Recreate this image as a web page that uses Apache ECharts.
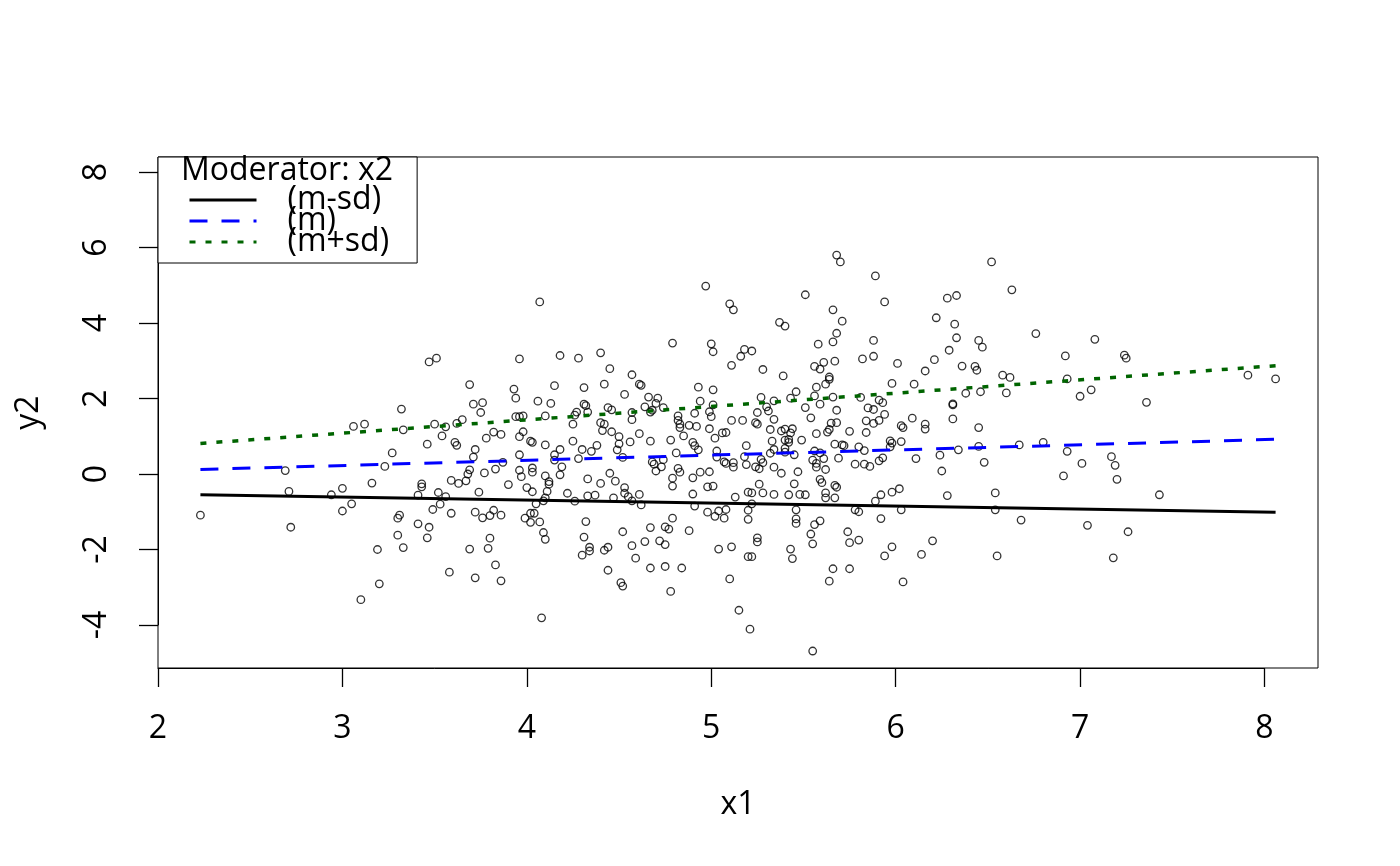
<!DOCTYPE html>
<html><head><meta charset="utf-8">
<script src="https://cdn.jsdelivr.net/npm/echarts/dist/echarts.min.js"></script>
<style>html,body{margin:0;padding:0;background:#fff}#c{width:1400px;height:866px}</style>
</head><body><div id="c"></div>
<script>
// ---- data ----
const observations = [
[3.47,2.97],[3.51,3.07],[3.32,1.72],[3.06,1.26],[3.12,1.32],[3.33,1.17],[3.50,1.32],[3.56,1.25],[3.54,1.01],[3.46,0.79],[3.27,0.56],
[2.69,0.09],[3.23,0.20],[2.23,-1.09],[2.71,-0.46],[2.72,-1.41],[2.94,-0.55],[3.00,-0.38],[3.00,-0.98],[3.05,-0.79],[3.16,-0.24],[3.19,-2.00],[3.20,-2.91],[3.10,-3.33],[3.31,-1.09],[3.30,-1.17],[3.30,-1.62],[3.33,-1.95],[3.41,-0.56],[3.43,-0.26],[3.43,-0.34],[3.41,-1.32],[3.47,-1.41],[3.46,-1.69],[3.49,-0.94],[3.52,-0.49],[3.53,-0.80],
[4.07,4.56],[4.97,4.98],[3.96,3.05],[4.18,3.14],[4.28,3.07],[4.40,3.21],[4.45,2.79],[4.79,3.47],[5.00,3.45],[5.01,3.24],[3.69,2.37],[3.93,2.25],[3.94,2.01],[4.15,2.34],[4.31,2.29],[4.42,2.38],[4.57,2.63],[4.61,2.38],[4.62,2.35],[4.53,2.11],[4.66,2.04],[4.71,2.01],[4.93,2.30],[5.01,2.23],[4.94,1.93],[3.71,1.85],[3.76,1.89],[3.75,1.63],[4.06,1.93],[4.13,1.87],[4.31,1.85],[4.32,1.81],[4.27,1.64],[4.26,1.56],[4.33,1.64],[4.44,1.76],[4.46,1.70],[4.64,1.78],[4.70,1.87],[4.74,1.76],[4.68,1.69],[4.67,1.64],[4.57,1.63],[4.57,1.44],[5.01,1.83],[4.99,1.65],[5.00,1.52],[4.91,1.61],[4.82,1.54],[3.94,1.52],[3.96,1.52],[3.98,1.54],[4.10,1.54],[3.62,1.34],[3.65,1.44],[3.61,0.84],[3.62,0.76],[3.72,0.65],[3.71,0.45],[3.78,0.95],[3.82,1.11],[3.86,1.05],[3.96,0.99],[3.98,1.12],[4.02,0.87],[4.03,0.84],[3.96,0.51],[4.10,0.77],[4.15,0.51],[4.18,0.65],[4.25,1.32],[4.25,0.87],[4.30,0.65],[4.35,0.60],[4.38,0.76],[4.40,1.36],[4.42,1.32],[4.41,1.15],[4.46,1.12],[4.50,0.99],[4.50,0.80],[4.49,0.64],[4.56,0.85],[4.61,1.07],[4.67,0.87],[4.78,0.90],[4.82,1.42],[4.83,1.32],[4.83,1.23],[4.85,1.01],[4.88,1.29],[4.92,1.26],[4.90,0.84],[4.91,0.75],[4.93,0.64],[4.99,1.20],[5.02,0.95],[5.06,1.09],[5.08,1.10],[4.81,0.56],[5.03,0.61],
[3.87,0.31],[4.15,0.37],[4.28,0.41],[4.52,0.44],[4.68,0.32],[4.69,0.26],[4.70,0.08],[4.73,0.19],[4.74,0.38],[4.82,0.15],[4.83,0.05],[5.03,0.45],[5.07,0.32],[5.08,0.28],[3.59,-0.17],[3.63,-0.25],[3.67,-0.18],[3.68,0.00],[3.69,0.11],[3.77,0.03],[3.83,0.13],[3.90,-0.28],[3.96,0.10],[3.97,-0.07],[4.03,0.16],[4.03,0.05],[4.10,-0.05],[4.12,-0.20],[4.12,-0.27],[4.11,-0.46],[4.19,0.19],[4.18,-0.02],[4.00,-0.36],[4.03,-0.47],[3.74,-0.48],[3.56,-0.60],[3.59,-1.04],[3.72,-1.01],[3.76,-1.16],[3.80,-1.10],[3.82,-0.96],[3.86,-1.09],[3.99,-1.17],[4.02,-1.04],[4.04,-1.04],[4.02,-1.28],[4.07,-1.27],[4.05,-0.79],[4.09,-0.71],[4.10,-0.63],[4.09,-1.55],[4.10,-1.73],[3.80,-1.70],[3.79,-1.97],[3.69,-1.99],[3.58,-2.60],[3.72,-2.75],[3.83,-2.41],[3.86,-2.83],[4.08,-3.81],[4.22,-0.51],[4.26,-0.72],[4.33,-0.13],[4.33,-0.58],[4.37,-0.56],[4.40,-0.25],[4.45,0.02],[4.48,-0.19],[4.47,-0.63],[4.53,-0.36],[4.53,-0.51],[4.55,-0.60],[4.57,-0.71],[4.61,-0.54],[4.62,-0.82],[4.32,-1.26],[4.31,-1.67],[4.34,-1.94],[4.34,-2.04],[4.30,-2.15],[4.42,-2.02],[4.44,-1.94],[4.52,-1.53],[4.57,-1.90],[4.59,-2.23],[4.44,-2.55],[4.51,-2.88],[4.52,-2.97],[4.64,-1.79],[4.67,-1.42],[4.67,-2.49],[4.72,-1.77],[4.75,-1.87],[4.75,-1.40],[4.77,-1.46],[4.79,-1.17],[4.75,-2.45],[4.84,-2.49],[4.78,-3.11],[4.88,-1.50],[4.79,-0.32],[4.79,-0.11],[4.90,-0.10],[4.94,0.05],[4.99,0.06],[4.90,-0.53],[4.91,-0.85],[4.98,-0.34],[5.01,-0.32],[4.98,-1.01],[5.02,-1.12],[5.04,-0.98],[5.07,-1.17],[5.08,-0.94],[5.04,-1.99],
[5.68,5.80],[5.70,5.62],[5.89,5.25],[6.52,5.62],[5.51,4.75],[5.10,4.51],[5.12,4.35],[5.94,4.56],[6.28,4.66],[6.33,4.73],[5.66,4.35],[5.71,4.05],[5.37,4.02],[5.40,3.92],[5.68,3.73],[5.66,3.50],[5.58,3.44],[6.22,4.14],[6.32,3.97],[6.33,3.61],[6.45,3.54],[6.47,3.36],[6.29,3.28],[5.88,3.54],[5.88,3.12],[5.82,3.05],[6.01,2.93],[6.21,3.03],[6.16,2.73],[6.36,2.86],[6.43,2.85],[6.44,2.75],[5.18,3.30],[5.22,3.26],[5.16,3.12],[5.11,2.88],[5.28,2.77],[5.39,2.60],[5.67,2.99],[5.61,2.96],[5.56,2.85],[5.59,2.78],[5.64,2.57],[5.64,2.51],[5.62,2.38],[5.57,2.30],[5.98,2.40],[6.10,2.38],[5.46,2.18],[5.43,2.01],[5.27,2.03],[5.34,1.94],[5.30,1.78],[5.31,1.67],[5.25,1.63],[5.56,2.07],[5.66,2.04],[5.59,1.85],[5.51,1.76],[5.68,1.69],[5.54,1.49],[5.81,2.03],[5.91,1.96],[5.93,1.89],[5.85,1.75],[5.88,1.71],[5.94,1.58],[5.91,1.42],[5.84,1.41],[5.88,1.34],[6.09,1.48],[6.03,1.28],[6.04,1.23],[6.16,1.32],[6.16,1.19],[6.31,1.86],[6.31,1.83],[6.31,1.46],[6.38,2.14],[6.46,2.18],[6.45,1.23],[5.11,1.42],[5.17,1.42],[5.24,1.36],[5.25,1.32],[5.34,1.45],[5.32,1.18],[5.38,1.14],[5.40,1.19],[5.43,1.09],[5.44,1.20],[5.57,1.07],[5.63,1.11],[5.64,1.18],[5.65,1.35],[5.68,1.36],[5.75,1.13],[5.84,1.10],[5.33,0.87],[5.40,0.90],[5.42,0.92],[5.42,0.84],[5.49,0.90],[5.19,0.75],[5.67,0.79],[5.71,0.77],[5.72,0.75],[5.80,0.72],[5.83,0.62],[5.97,0.88],[5.98,0.82],[5.97,0.72],[6.03,0.86],[5.34,0.65],[5.32,0.55],[5.40,0.68],[5.40,0.58],[5.45,0.51],[5.56,0.61],[5.59,0.56],[6.34,0.64],[6.45,0.73],
[5.18,0.46],[5.12,0.30],[5.12,0.18],[5.19,0.25],[5.24,0.19],[5.26,0.14],[5.27,0.39],[5.28,0.30],[5.34,0.18],[5.38,0.02],[5.47,0.06],[5.55,0.37],[5.57,0.28],[5.57,0.18],[5.61,0.41],[5.62,0.12],[5.69,0.42],[5.78,0.26],[5.83,0.26],[5.86,0.20],[5.91,0.35],[5.93,0.43],[6.11,0.41],[6.24,0.50],[6.25,0.08],[6.48,0.31],[5.26,-0.27],[5.45,-0.26],[5.59,-0.14],[5.60,-0.23],[5.67,-0.30],[5.68,-0.35],[5.20,-0.48],[5.22,-0.50],[5.28,-0.50],[5.34,-0.54],[5.42,-0.55],[5.48,-0.54],[5.51,-0.55],[5.62,-0.50],[5.62,-0.63],[5.67,-0.63],[5.13,-0.61],[5.22,-0.79],[5.20,-0.96],[5.20,-1.20],[5.46,-0.95],[5.46,-1.19],[5.46,-1.31],[5.56,-1.34],[5.59,-1.24],[5.54,-1.59],[5.55,-1.85],[5.25,-1.69],[5.25,-1.80],[5.11,-1.93],[5.20,-2.19],[5.22,-2.19],[5.43,-1.99],[5.44,-2.24],[5.10,-2.78],[5.15,-3.61],[5.21,-4.11],[5.55,-4.69],[5.66,-2.51],[5.64,-2.84],[5.75,-2.51],[5.74,-1.53],[5.75,-1.82],[5.80,-1.75],[5.78,-0.95],[5.80,-1.00],[5.89,-0.72],[5.92,-0.55],[5.98,-0.48],[6.02,-0.39],[6.03,-0.95],[5.92,-1.18],[5.98,-1.93],[5.94,-2.17],[6.04,-2.86],[6.14,-2.13],[6.20,-1.77],[6.28,-0.57],[6.54,-0.50],[6.54,-0.95],[6.55,-2.17],
[6.63,4.88],[6.76,3.72],[7.08,3.57],[6.92,3.13],[7.24,3.15],[7.25,3.07],[6.58,2.62],[6.62,2.56],[6.60,2.15],[6.93,2.52],[7.00,2.06],[7.06,2.23],[7.36,1.90],[7.91,2.62],[8.06,2.52],[6.67,0.77],[6.80,0.84],[6.93,0.60],
[7.17,0.46],[7.01,0.28],[7.19,0.23],[6.91,-0.05],[7.20,-0.14],[7.43,-0.55],[6.68,-1.22],[7.04,-1.36],[7.26,-1.53],[7.18,-2.22]
];
const lineX = [2.23, 8.06];
const lineMinusSd = [-0.55, -1.01];
const lineMean = [0.12, 0.92];
const linePlusSd = [0.81, 2.87];
const seriesNames = ['(m-sd)', '(m)', '(m+sd)'];
const legendTitle = 'Moderator: x2';
const xName = 'x1', yName = 'y2';
const xTickRange = [2, 8], xTickStep = 1;
const yTickRange = [-4, 8], yTickStep = 2;
const xRange = [2.0, 8.29];
const yRange = [-5.14, 8.40];

// ---- layout ----
const FONT = 'Open Sans';
const FS = 32;
const G = {left: 158, top: 157, width: 1160, height: 511};
const xPx = v => G.left + (v - xRange[0]) / (xRange[1] - xRange[0]) * G.width;
const yPx = v => G.top + (yRange[1] - v) / (yRange[1] - yRange[0]) * G.height;

const txt = {fontFamily: FONT, fontSize: FS, color: '#000', lineHeight: FS};
const chart = echarts.init(document.getElementById('c'), null, {renderer: 'canvas'});
const pair = ys => lineX.map((x, i) => [x, ys[i]]);

chart.setOption({
  animation: false,
  backgroundColor: '#fff',
  title: {text: legendTitle, left: 181, top: 155, padding: 0, z: 10,
    textStyle: Object.assign({fontWeight: 'normal'}, txt)},
  legend: {
    orient: 'vertical', left: G.left, top: G.top,
    padding: [27, 28, 5, 30], itemWidth: 67, itemHeight: 32, itemGap: -11,
    borderColor: '#000', borderWidth: 1, backgroundColor: '#fff',
    selectedMode: false,
    itemStyle: {opacity: 0},
    lineStyle: {width: 3},
    textStyle: {fontFamily: FONT, fontSize: FS, color: '#000', lineHeight: 32, padding: [0, 0, 0, 26]},
    data: seriesNames
  },
  grid: [
    {left: G.left, top: G.top, width: G.width, height: G.height, show: true,
     borderColor: '#000', borderWidth: 1, backgroundColor: 'transparent', outerBoundsMode: 'none', containLabel: false},
    {left: xPx(xTickRange[0]), width: xPx(xTickRange[1]) - xPx(xTickRange[0]),
     top: G.top + G.height - 1, height: 1, outerBoundsMode: 'none', containLabel: false},
    {left: G.left, width: 1, top: yPx(yTickRange[1]), height: yPx(yTickRange[0]) - yPx(yTickRange[1]),
     outerBoundsMode: 'none', containLabel: false}
  ],
  xAxis: [
    {gridIndex: 0, type: 'value', min: xRange[0], max: xRange[1],
     axisLine: {show: false}, axisTick: {show: false}, axisLabel: {show: false}, splitLine: {show: false},
     name: xName, nameLocation: 'middle', nameGap: 121, nameTextStyle: txt},
    {gridIndex: 1, type: 'value', min: xTickRange[0], max: xTickRange[1], interval: xTickStep, position: 'bottom',
     axisLine: {show: true, lineStyle: {color: '#000', width: 1}},
     axisTick: {show: true, length: 19, lineStyle: {color: '#000', width: 1.3}},
     axisLabel: Object.assign({margin: 45, showMinLabel: true, showMaxLabel: true}, txt),
     splitLine: {show: false}},
    {gridIndex: 2, type: 'value', show: false, min: 0, max: 1}
  ],
  yAxis: [
    {gridIndex: 0, type: 'value', min: yRange[0], max: yRange[1],
     axisLine: {show: false}, axisTick: {show: false}, axisLabel: {show: false}, splitLine: {show: false},
     name: yName, nameLocation: 'middle', nameGap: 113, nameRotate: 90, nameTextStyle: txt},
    {gridIndex: 1, type: 'value', show: false, min: 0, max: 1},
    {gridIndex: 2, type: 'value', min: yTickRange[0], max: yTickRange[1], interval: yTickStep, position: 'left',
     axisLine: {show: true, lineStyle: {color: '#000', width: 1}},
     axisTick: {show: true, length: 19, lineStyle: {color: '#000', width: 1.3}},
     axisLabel: Object.assign({margin: 45, rotate: 90, showMinLabel: true, showMaxLabel: true}, txt),
     splitLine: {show: false}}
  ],
  series: [
    {type: 'scatter', xAxisIndex: 0, yAxisIndex: 0, data: observations,
     symbol: 'circle', symbolSize: 7.5,
     itemStyle: {color: 'rgba(0,0,0,0)', borderColor: '#000', borderWidth: 1.3},
     emphasis: {disabled: true}, silent: true},
    {type: 'line', name: seriesNames[0], xAxisIndex: 0, yAxisIndex: 0, data: pair(lineMinusSd),
     symbol: 'none', lineStyle: {color: '#000', width: 3, type: 'solid'}, itemStyle: {color: '#000'}, silent: true},
    {type: 'line', name: seriesNames[1], xAxisIndex: 0, yAxisIndex: 0, data: pair(lineMean),
     symbol: 'none', lineStyle: {color: '#0000FF', width: 3, type: [18, 14]}, itemStyle: {color: '#0000FF'}, silent: true},
    {type: 'line', name: seriesNames[2], xAxisIndex: 0, yAxisIndex: 0, data: pair(linePlusSd),
     symbol: 'none', lineStyle: {color: '#006400', width: 3.5, type: [6, 10]}, itemStyle: {color: '#006400'}, silent: true}
  ]
});
</script></body></html>
